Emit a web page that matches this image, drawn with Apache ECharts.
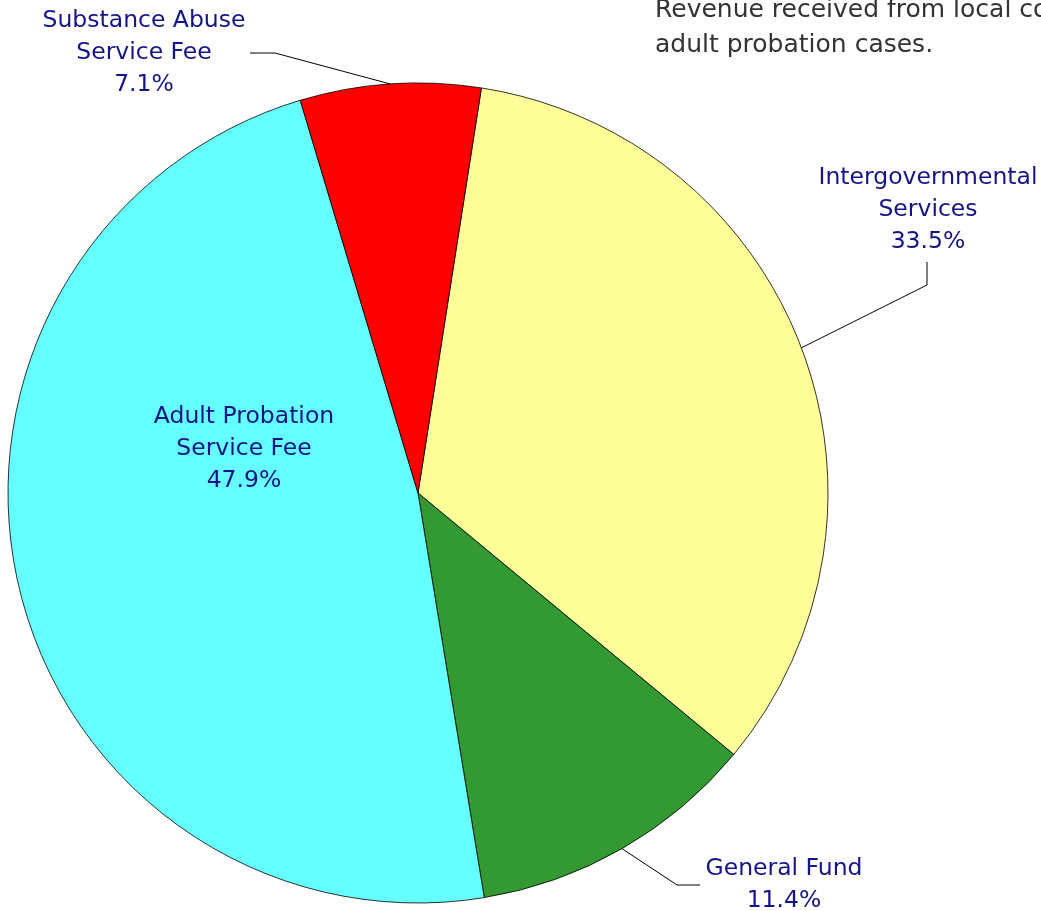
<!DOCTYPE html>
<html style="height: 100%">
<head>
    <meta charset="utf-8">
    <title>Revenue</title>
    <script src="https://cdn.jsdelivr.net/npm/echarts@6/dist/echarts.min.js"></script>
</head>
<body style="height: 100%; margin: 0">
<div id="container" style="width: 1041px; height: 911px"></div>
<script type="text/javascript">
    var categories = ['Intergovernmental\nServices', 'General Fund', 'Adult Probation\nService Fee', 'Substance Abuse\nService Fee'];
    var values = [33.5, 11.4, 47.9, 7.1];
    var colors = ['#ffff99', '#339933', '#66ffff', '#ff0000'];

    var myChart = echarts.init(document.getElementById('container'));

    // label spots, index matches categories
    var labelSpots = [
        { x: 928, y: 210, bend: [927, 285], end: [927, 262] },
        { x: 784, y: 885, bend: [677, 885], end: [700, 885] },
        { x: 244, y: 449 },
        { x: 144, y: 53, bend: [275, 53], end: [250, 53] }
    ];

    var data = categories.map(function (c, i) {
        var item = { name: c, value: values[i], itemStyle: { color: colors[i] } };
        if (i === 2) {
            item.label = { position: 'inside' };
            item.labelLine = { show: false };
        }
        return item;
    });

    var option = {
        backgroundColor: '#ffffff',
        animation: false,
        title: {
            text: 'Revenue received from local courts for\nadult probation cases.',
            left: 650,
            top: -12,
            textStyle: {
                fontFamily: 'DejaVu Sans',
                fontSize: 25,
                lineHeight: 35,
                fontWeight: 'normal',
                color: '#333333'
            }
        },
        series: [{
            type: 'pie',
            center: [418, 493],
            radius: 410,
            startAngle: 81.1,
            avoidLabelOverlap: false,
            itemStyle: {
                borderColor: '#000000',
                borderWidth: 0.8
            },
            label: {
                show: true,
                position: 'outside',
                fontFamily: 'DejaVu Sans',
                fontSize: 23.5,
                lineHeight: 32,
                color: '#141489',
                formatter: function (p) {
                    return p.name + '\n' + p.value.toFixed(1) + '%';
                }
            },
            labelLine: {
                show: true,
                lineStyle: { color: '#000000', width: 1 }
            },
            labelLayout: function (p) {
                var s = labelSpots[p.dataIndex];
                var out = { x: s.x, y: s.y, align: 'center', verticalAlign: 'middle' };
                if (s.bend && p.labelLinePoints) {
                    out.labelLinePoints = [p.labelLinePoints[0], s.bend, s.end];
                }
                return out;
            },
            data: data
        }]
    };
    myChart.setOption(option);
</script>
</body>
</html>
